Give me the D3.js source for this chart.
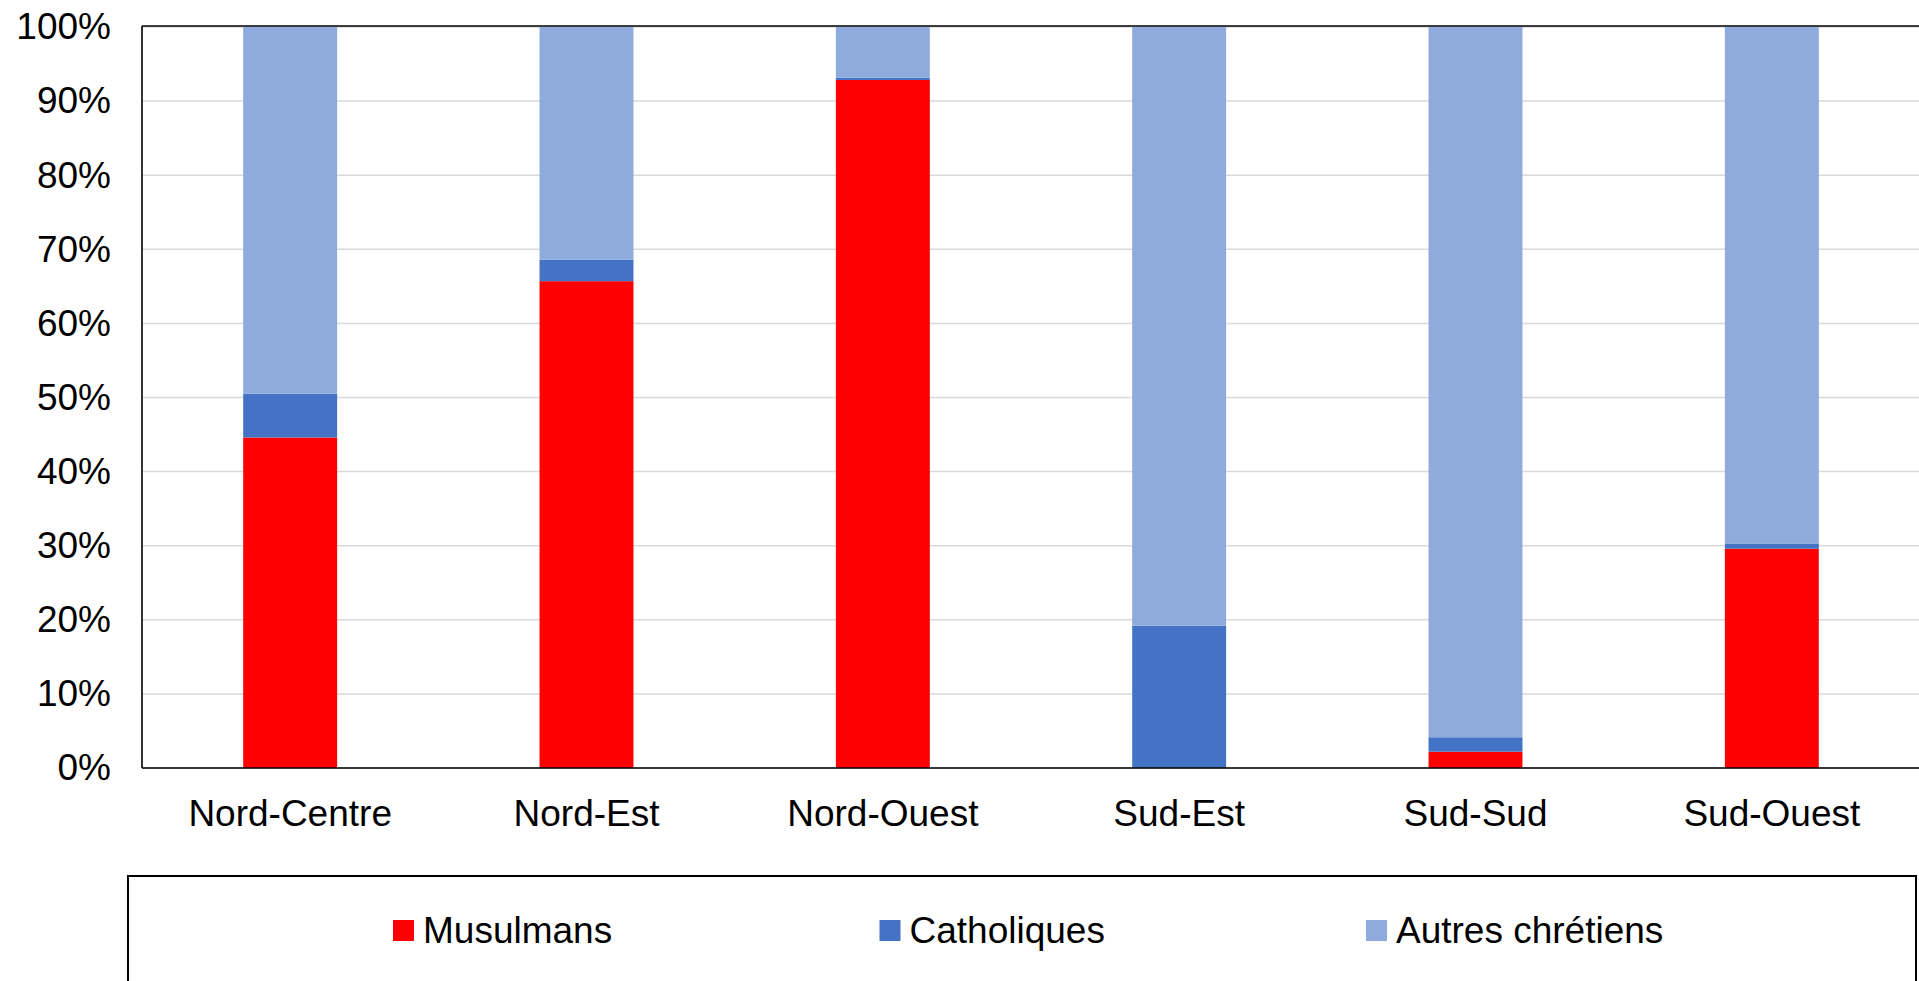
<!DOCTYPE html>
<html>
<head>
<meta charset="utf-8">
<script src="https://cdn.jsdelivr.net/npm/d3@7"></script>
<style>
  body { margin: 0; background: #fff; overflow: hidden; }
  svg { display: block; font-family: "Liberation Sans", Arial, sans-serif; }
</style>
</head>
<body>
<svg id="chart" width="1919" height="981"></svg>
<script>
// regions and shares (percent)
var regions = ["Nord-Centre", "Nord-Est", "Nord-Ouest", "Sud-Est", "Sud-Sud", "Sud-Ouest"];
var musulmans = [44.6, 65.7, 92.85, 0, 2.2, 29.6];
var catholiques = [5.9, 2.9, 0.3, 19.2, 1.95, 0.7];
var autresChretiens = [49.5, 31.4, 6.85, 80.8, 95.85, 69.7];
var seriesNames = ["Musulmans", "Catholiques", "Autres chrétiens"];
var seriesColors = ["#FF0000", "#4472C4", "#8FAADC"];
var yTicks = [0, 10, 20, 30, 40, 50, 60, 70, 80, 90, 100];

var rows = regions.map(function (r, i) {
  return { region: r, "Musulmans": musulmans[i], "Catholiques": catholiques[i], "Autres chrétiens": autresChretiens[i] };
});

var svg = d3.select("#chart"),
    MARGINS = { top: 27, right: -1, bottom: 213, left: 142 },
    WIDTH = 1919,
    HEIGHT = 981,
    FONT = 37;

var xScale = d3.scaleBand()
    .domain(regions)
    .range([MARGINS.left, WIDTH - MARGINS.right])
    .paddingInner(0.683)
    .paddingOuter(0.683 / 2);

var yScale = d3.scaleLinear()
    .domain([0, 100])
    .range([HEIGHT - MARGINS.bottom, MARGINS.top]);

// gridlines
svg.append("g")
    .selectAll("line")
    .data(yTicks)
    .enter().append("line")
    .attr("x1", MARGINS.left)
    .attr("x2", WIDTH - MARGINS.right)
    .attr("y1", function (d) { return yScale(d); })
    .attr("y2", function (d) { return yScale(d); })
    .attr("stroke", "#D9D9D9")
    .attr("stroke-width", 1.5);

// stacked bars
var stack = d3.stack().keys(seriesNames);
var layers = stack(rows);

svg.append("g")
    .selectAll("g")
    .data(layers)
    .enter().append("g")
    .attr("fill", function (d, i) { return seriesColors[i]; })
    .selectAll("rect")
    .data(function (d) { return d; })
    .enter().append("rect")
    .attr("x", function (d) { return xScale(d.data.region); })
    .attr("width", xScale.bandwidth())
    .attr("y", function (d) { return yScale(d[1]); })
    .attr("height", function (d) { return yScale(d[0]) - yScale(d[1]); });

// plot frame: top, left and bottom lines
var frame = svg.append("g").attr("stroke", "#000").attr("stroke-width", 1.6);
frame.append("line")
    .attr("x1", MARGINS.left).attr("x2", WIDTH)
    .attr("y1", yScale(100) - 1).attr("y2", yScale(100) - 1);
frame.append("line")
    .attr("x1", MARGINS.left).attr("x2", MARGINS.left)
    .attr("y1", yScale(100) - 1).attr("y2", yScale(0));
frame.append("line")
    .attr("x1", MARGINS.left).attr("x2", WIDTH)
    .attr("y1", yScale(0)).attr("y2", yScale(0));

// y axis
var yAxis = d3.axisLeft(yScale)
    .tickValues(yTicks)
    .tickSize(0)
    .tickPadding(31)
    .tickFormat(function (d) { return d + "%"; });

var gy = svg.append("g")
    .attr("transform", "translate(" + MARGINS.left + ",0)")
    .call(yAxis);
gy.select(".domain").remove();
gy.selectAll("text")
    .attr("font-size", FONT)
    .attr("font-family", "Liberation Sans, Arial, sans-serif")
    .attr("fill", "#000");

// x axis
var xAxis = d3.axisBottom(xScale).tickSize(0).tickPadding(32);
var gx = svg.append("g")
    .attr("transform", "translate(0," + yScale(0) + ")")
    .call(xAxis);
gx.select(".domain").remove();
gx.selectAll("text")
    .attr("font-size", FONT)
    .attr("font-family", "Liberation Sans, Arial, sans-serif")
    .attr("fill", "#000");

// legend
svg.append("rect")
    .attr("x", 128)
    .attr("y", 876)
    .attr("width", 1788)
    .attr("height", 140)
    .attr("fill", "none")
    .attr("stroke", "#000")
    .attr("stroke-width", 2);

var legendX = d3.scalePoint()
    .domain(seriesNames)
    .range([393, 1366]);

var item = svg.append("g")
    .selectAll("g")
    .data(seriesNames)
    .enter().append("g")
    .attr("transform", function (d) { return "translate(" + legendX(d) + ",920)"; });

item.append("rect")
    .attr("width", 21)
    .attr("height", 21)
    .attr("fill", function (d, i) { return seriesColors[i]; });

item.append("text")
    .attr("x", 30)
    .attr("y", 23)
    .attr("font-size", FONT)
    .attr("fill", "#000")
    .text(function (d) { return d; });
</script>
</body>
</html>
